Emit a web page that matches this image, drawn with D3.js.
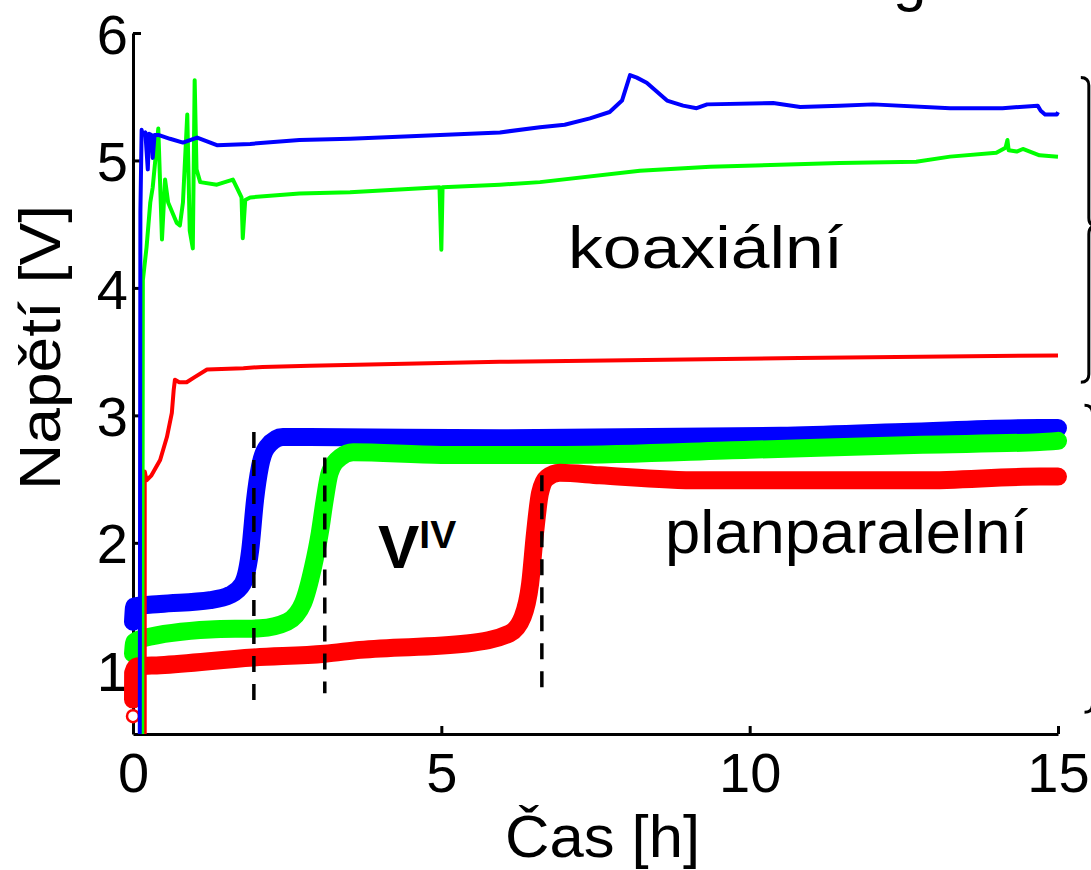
<!DOCTYPE html>
<html>
<head>
<meta charset="utf-8">
<script src="https://cdn.jsdelivr.net/npm/d3@7"></script>
<style>
  html, body { margin: 0; padding: 0; background: #fff; overflow: hidden; }
  svg { display: block; }
  text { font-family: "Liberation Sans", Arial, Helvetica, sans-serif; fill: #000; }
</style>
</head>
<body>
<svg id="chart" width="1091" height="870"></svg>
<script>
// ---------------- data ----------------
const xTicks = [0, 5, 10, 15];
const yTicks = [1, 2, 3, 4, 5, 6];
const xLabel = "Čas [h]";
const yLabel = "Napětí [V]";

// coaxial cells (thin lines)
const coaxBlueT = [0.11, 0.12, 0.14, 0.16, 0.2, 0.24, 0.26, 0.3, 0.32, 0.35, 0.41, 0.6, 0.81, 1.04, 1.36, 1.9, 2.7, 3.52, 4.5, 5.95, 6.6, 7.0, 7.41, 7.73, 7.93, 8.06, 8.17, 8.33, 8.66, 8.92, 9.14, 9.31, 10.38, 10.82, 11.46, 12.0, 13.25, 14.1, 14.67, 14.72, 14.79, 14.98, 15.0];
const coaxBlueV = [0.5, 4.6, 5.24, 5.2, 5.22, 4.93, 5.21, 5.2, 5.02, 5.2, 5.2, 5.17, 5.14, 5.18, 5.12, 5.13, 5.16, 5.17, 5.19, 5.22, 5.26, 5.28, 5.33, 5.38, 5.47, 5.67, 5.65, 5.61, 5.47, 5.43, 5.41, 5.44, 5.45, 5.42, 5.43, 5.44, 5.41, 5.41, 5.43, 5.39, 5.36, 5.36, 5.38];

const coaxGreenT = [0.15, 0.16, 0.22, 0.28, 0.32, 0.41, 0.47, 0.52, 0.57, 0.71, 0.76, 0.81, 0.88, 0.92, 0.97, 1.0, 1.03, 1.09, 1.36, 1.62, 1.68, 1.76, 1.78, 1.82, 1.9, 2.7, 3.52, 4.97, 5.0, 5.02, 5.95, 6.6, 8.22, 9.36, 11.46, 12.7, 13.25, 14.0, 14.15, 14.18, 14.2, 14.33, 14.43, 14.7, 15.0];
const coaxGreenV = [0.5, 4.06, 4.32, 4.67, 4.79, 5.25, 4.38, 4.85, 4.67, 4.51, 4.49, 4.67, 5.36, 4.45, 4.31, 5.63, 4.93, 4.83, 4.81, 4.85, 4.79, 4.71, 4.39, 4.69, 4.71, 4.74, 4.75, 4.79, 4.3, 4.79, 4.81, 4.83, 4.92, 4.95, 4.98, 4.99, 5.03, 5.06, 5.1, 5.16, 5.08, 5.07, 5.09, 5.04, 5.03];

const coaxRedT = [0.19, 0.19, 0.22, 0.3, 0.44, 0.55, 0.63, 0.66, 0.68, 0.75, 0.87, 1.0, 1.2, 1.79, 2.1, 2.87, 5.95, 10.8, 15.0];
const coaxRedV = [0.5, 2.56, 2.49, 2.53, 2.65, 2.83, 3.02, 3.2, 3.28, 3.26, 3.26, 3.3, 3.36, 3.37, 3.38, 3.39, 3.42, 3.45, 3.47];

// plan-parallel cells (thick lines)
const planBlueT = [0.0, 0.02, 0.44, 1.25, 1.57, 1.78, 1.9, 1.98, 2.06, 2.17, 2.43, 2.87, 5.95, 10.5, 12.5, 14.7, 15.0];
const planBlueV = [1.38, 1.5, 1.52, 1.55, 1.59, 1.68, 1.94, 2.34, 2.6, 2.75, 2.83, 2.83, 2.82, 2.84, 2.87, 2.9, 2.9];

const planGreenT = [0.0, 0.02, 0.16, 1.25, 2.06, 2.5, 2.76, 2.92, 3.03, 3.11, 3.19, 3.36, 3.57, 5.0, 7.0, 10.0, 12.8, 14.7, 15.0];
const planGreenV = [1.13, 1.22, 1.25, 1.32, 1.33, 1.38, 1.53, 1.81, 2.08, 2.34, 2.55, 2.67, 2.71, 2.69, 2.69, 2.73, 2.77, 2.79, 2.8];

const planRedT = [0.0, 0.002, 0.06, 0.44, 1.95, 3.11, 3.68, 5.41, 6.11, 6.32, 6.44, 6.52, 6.6, 6.71, 6.92, 7.57, 9.19, 12.8, 14.7, 15.0];
const planRedV = [0.77, 0.98, 1.03, 1.04, 1.1, 1.13, 1.16, 1.21, 1.29, 1.42, 1.68, 2.08, 2.39, 2.51, 2.55, 2.53, 2.49, 2.49, 2.52, 2.52];

// first measured point of the red plan-parallel cell (open circle marker)
const planRedStartT = 0.0;
const planRedStartV = 0.64;

// vertical dashed markers (time, top value, bottom value)
const markerT = [1.96, 3.11, 6.63];
const markerTop = [2.87, 2.67, 2.53];
const markerBottom = [0.71, 0.82, 0.82];

// right-hand braces (data units: top, bottom)
const braceTop = [5.65, 3.08];
const braceBottom = [3.26, 0.67];

// ---------------- drawing ----------------
const svg = d3.select("#chart");
const x = d3.scaleLinear().domain([0, 15]).range([133, 1058]);
const y = d3.scaleLinear().domain([0.5, 6]).range([734, 33]);

const FONT = 56;

// axes
const yAxis = d3.axisLeft(y).tickValues(yTicks).tickFormat(d3.format("d"))
  .tickSizeInner(-8).tickSizeOuter(0).tickPadding(6);
const xAxis = d3.axisBottom(x).tickValues(xTicks).tickFormat(d3.format("d"))
  .tickSizeInner(-8).tickSizeOuter(0).tickPadding(18);

const gy = svg.append("g").attr("transform", `translate(${x(0)},0)`).call(yAxis);
const gx = svg.append("g").attr("transform", `translate(0,${y(0.5)})`).call(xAxis);
[gx, gy].forEach(g => {
  g.select(".domain").attr("stroke", "#000").attr("stroke-width", 3);
  g.selectAll(".tick line").attr("stroke", "#000").attr("stroke-width", 3);
  g.selectAll(".tick text").attr("font-size", FONT)
    .attr("font-family", '"Liberation Sans", Arial, sans-serif').attr("fill", "#000");
});
gy.selectAll(".tick text").attr("dy", "0.36em").attr("x", -5);
gx.selectAll(".tick text").attr("dy", "0.71em");

// axis titles
svg.append("text").attr("x", 505).attr("y", 857).attr("font-size", 60)
  .attr("textLength", 195).attr("lengthAdjust", "spacingAndGlyphs").text(xLabel);
svg.append("text").attr("transform", "translate(60,490) rotate(-90)")
  .attr("font-size", 58).attr("textLength", 285).attr("lengthAdjust", "spacingAndGlyphs").text(yLabel);

// line generators
const line = d3.line().x(d => x(d[0])).y(d => y(d[1]));
const smooth = d3.line().x(d => x(d[0])).y(d => y(d[1])).curve(d3.curveMonotoneX);
const zip = (t, v) => t.map((d, i) => [d, v[i]]);

// thick plan-parallel curves
const planSeries = [
  { t: planBlueT, v: planBlueV, c: "#0000ff" },
  { t: planGreenT, v: planGreenV, c: "#00ff00" },
  { t: planRedT, v: planRedV, c: "#ff0000" }
];
planSeries.forEach(s => {
  svg.append("path").datum(zip(s.t, s.v)).attr("d", smooth)
    .attr("fill", "none").attr("stroke", s.c).attr("stroke-width", 18)
    .attr("stroke-linecap", "round").attr("stroke-linejoin", "round");
});
// start marker on red plan curve
svg.append("circle").attr("cx", x(planRedStartT)).attr("cy", y(planRedStartV)).attr("r", 6)
  .attr("fill", "#fff").attr("stroke", "#ff0000").attr("stroke-width", 2.5);

// thin coaxial curves
const coaxSeries = [
  { t: coaxRedT, v: coaxRedV, c: "#ff0000" },
  { t: coaxGreenT, v: coaxGreenV, c: "#00ff00" },
  { t: coaxBlueT, v: coaxBlueV, c: "#0000ff" }
];
coaxSeries.forEach(s => {
  svg.append("path").datum(zip(s.t, s.v)).attr("d", line)
    .attr("fill", "none").attr("stroke", s.c).attr("stroke-width", 4)
    .attr("stroke-linejoin", "round");
});

// dashed markers
markerT.forEach((t, i) => {
  svg.append("line").attr("x1", x(t)).attr("x2", x(t))
    .attr("y1", y(markerTop[i])).attr("y2", y(markerBottom[i]))
    .attr("stroke", "#000").attr("stroke-width", 3.5).attr("stroke-dasharray", "16,12");
});

// braces on the right
const braceX = [15.5, 15.56];
braceTop.forEach((top, i) => {
  const bx = x(braceX[i]);
  const y0 = y(top), y1 = y(braceBottom[i]);
  const ym = (y0 + y1) / 2 - 4;
  const r = 8;
  const p = `M${bx - 8},${y0} Q${bx},${y0} ${bx},${y0 + r} L${bx},${ym - r} Q${bx},${ym} ${bx + 8},${ym} ` +
            `Q${bx},${ym} ${bx},${ym + r} L${bx},${y1 - r} Q${bx},${y1} ${bx - 8},${y1}`;
  svg.append("path").attr("d", p).attr("fill", "none").attr("stroke", "#000").attr("stroke-width", 3);
});

// annotations
svg.append("text").attr("x", 568).attr("y", 268).attr("font-size", 60)
  .attr("textLength", 275).attr("lengthAdjust", "spacingAndGlyphs").text("koaxiální");
svg.append("text").attr("x", 665).attr("y", 553).attr("font-size", 62)
  .attr("textLength", 363).attr("lengthAdjust", "spacingAndGlyphs").text("planparalelní");
const vt = svg.append("text").attr("x", 378).attr("y", 568).attr("font-weight", "bold");
vt.append("tspan").attr("font-size", 62).text("V");
vt.append("tspan").attr("font-size", 39).attr("dy", -20).text("IV");

// cut-off title fragment at the top (as in the reference)
svg.append("text").attr("x", 893).attr("y", 0).attr("font-size", 60).text("g");
</script>
</body>
</html>
